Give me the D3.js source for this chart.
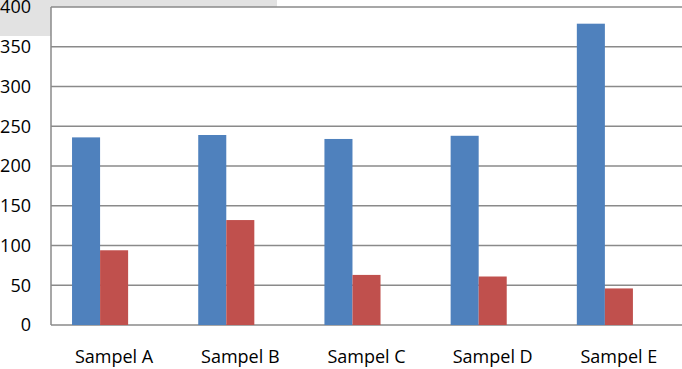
<!DOCTYPE html>
<html>
<head>
<meta charset="utf-8">
<script src="https://cdn.jsdelivr.net/npm/d3@7"></script>
<style>
  body { margin: 0; background: #fff; }
  svg { display: block; }
</style>
</head>
<body>
<div id="app"></div>
<script>
const categories = ["Sampel A", "Sampel B", "Sampel C", "Sampel D", "Sampel E"]
const series1 = [236, 239, 234, 238, 379]
const series2 = [94, 132, 63, 61, 46]
// excel keeps a third (empty) slot in each group
const slots = ["s1", "s2", "s3"]
const yTicks = [0, 50, 100, 150, 200, 250, 300, 350, 400]

const make_plot = (root_node) => {
   let width = 682
   let height = 369
   let left = 51, top = 7, bottom = 325, right = 682
   let grid_color = "#8a8a8a"
   let colors = {s1: "#4f81bd", s2: "#c0504d"}
   let font = "'Open Sans', sans-serif"

   let root = d3.select(root_node)
      .append("svg")
      .attr("width", width)
      .attr("height", height)

   // grey strip left over in the top left corner
   root.append("rect")
      .attr("x", 0).attr("y", 0)
      .attr("width", 277).attr("height", 36)
      .attr("fill", "#e2e2e2")

   root.append("rect")
      .attr("x", left).attr("y", top)
      .attr("width", right - left).attr("height", bottom - top)
      .attr("fill", "#fff")

   let x0 = d3.scaleBand().domain(categories).range([left, right])
   let x1 = d3.scaleBand().domain(slots).range([0, x0.bandwidth()]).paddingOuter(0.75)
   let y = d3.scaleLinear().domain([0, 400]).range([bottom, top])

   root.append("g")
      .selectAll("line")
      .data(yTicks)
      .join("line")
      .attr("x1", left).attr("x2", right)
      .attr("y1", d => y(d)).attr("y2", d => y(d))
      .attr("stroke", grid_color)
      .attr("stroke-width", 1.5)

   root.append("line")
      .attr("x1", left).attr("x2", left)
      .attr("y1", top).attr("y2", bottom)
      .attr("stroke", grid_color)
      .attr("stroke-width", 1.5)

   let rows = categories.map((c, i) => ({cat: c, s1: series1[i], s2: series2[i]}))

   let groups = root.append("g")
      .selectAll("g")
      .data(rows)
      .join("g")
      .attr("transform", d => `translate(${x0(d.cat)},0)`)

   groups.selectAll("rect")
      .data(d => ["s1", "s2"].map(k => ({key: k, value: d[k]})))
      .join("rect")
      .attr("x", d => x1(d.key))
      .attr("width", x1.bandwidth())
      .attr("y", d => y(d.value))
      .attr("height", d => y(0) - y(d.value))
      .attr("fill", d => colors[d.key])

   root.append("g")
      .selectAll("text")
      .data(yTicks)
      .join("text")
      .text(d => d)
      .attr("x", 31)
      .attr("y", d => y(d))
      .attr("dy", "0.36em")
      .attr("text-anchor", "end")
      .attr("font-family", font)
      .attr("font-size", "18px")
      .attr("fill", "#000")

   root.append("g")
      .selectAll("text")
      .data(categories)
      .join("text")
      .text(d => d)
      .attr("x", d => x0(d) + x0.bandwidth() / 2)
      .attr("y", 363)
      .attr("text-anchor", "middle")
      .attr("font-family", font)
      .attr("font-size", "18px")
      .attr("fill", "#000")
}

make_plot("#app")
</script>
</body>
</html>
